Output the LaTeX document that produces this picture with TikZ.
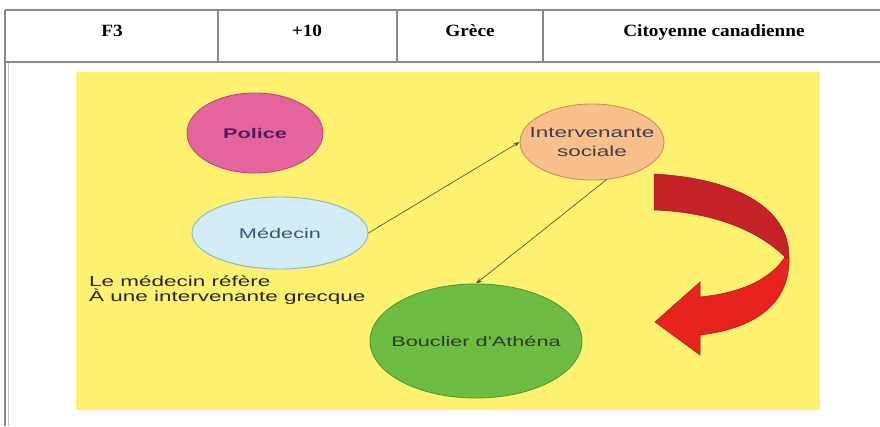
\documentclass[tikz,border=0pt]{standalone}
\usepackage{fontspec}
\setmainfont{Liberation Serif}
\newfontfamily\diagfont[FakeStretch=1.55]{Liberation Sans}
\newfontfamily\cellfont[FakeStretch=1.12]{Liberation Serif}
\usetikzlibrary{shapes.geometric,arrows.meta}

\definecolor{tblline}{HTML}{8A8A8A}
\definecolor{panel}{HTML}{FEF170}
\definecolor{policefill}{HTML}{E5649E}
\definecolor{policeline}{HTML}{B84A7C}
\definecolor{policetext}{HTML}{4E1D5C}
\definecolor{medfill}{HTML}{D2ECF8}
\definecolor{medline}{HTML}{8DB6CC}
\definecolor{medtext}{HTML}{3A5878}
\definecolor{intfill}{HTML}{F9C08B}
\definecolor{intline}{HTML}{C98E5E}
\definecolor{inttext}{HTML}{3E3E50}
\definecolor{boufill}{HTML}{6DBD45}
\definecolor{bouline}{HTML}{4E9A32}
\definecolor{boutext}{HTML}{2F3A2A}
\definecolor{connline}{HTML}{5E5638}
\definecolor{ribbondark}{HTML}{C42129}
\definecolor{ribbonlight}{HTML}{E8231F}
\definecolor{ribbonedge}{HTML}{9E1A1E}

\tikzset{
  cell/.style={anchor=base, inner sep=0pt,
    font=\cellfont\bfseries\fontsize{17.2}{19}\selectfont, text=black},
  % negative inner sep: the ellipse size comes from minimum width/height only
  bubble/.style={ellipse, draw, line width=0.9pt, inner sep=-40pt,
    font=\diagfont\fontsize{14}{19}\selectfont, align=center},
  conn/.style={draw=connline, line width=0.7pt,
    -{Stealth[length=6pt,width=4.5pt]}},
}

\begin{document}
\begin{tikzpicture}[x=1pt,y=-1pt]
  \useasboundingbox (0,0) rectangle (880,426);
  \fill[white] (0,0) rectangle (880,426);

  % table frame and header row
  \draw[tblline, line width=1.3pt] (5,10) -- (880,10);
  \draw[tblline, line width=1.3pt] (5,10) -- (5,426);
  \draw[tblline!50, line width=0.8pt] (8,62) -- (8,426);
  \draw[tblline, line width=1.1pt] (5,62) -- (880,62);
  \draw[tblline, line width=1.1pt] (218,10) -- (218,62);
  \draw[tblline, line width=1.1pt] (397,10) -- (397,62);
  \draw[tblline, line width=1.1pt] (543,10) -- (543,62);

  \node[cell] (c1) at (112,36) {F3};
  \node[cell] (c2) at (307,36) {+10};
  \node[cell] (c3) at (470,36) {Grèce};
  \node[cell] (c4) at (714,36) {Citoyenne canadienne};

  % yellow panel
  \fill[panel] (76,72) rectangle (820,410);

  % actors
  \node[bubble, fill=policefill, draw=policeline, text=policetext,
        minimum width=136pt, minimum height=80pt,
        font=\diagfont\bfseries\fontsize{14}{19}\selectfont]
        (pol) at (255,133) {Police};
  \node[bubble, fill=medfill, draw=medline, text=medtext,
        minimum width=176pt, minimum height=72pt] (med) at (280,233) {Médecin};
  \node[bubble, fill=intfill, draw=intline, text=inttext,
        minimum width=144pt, minimum height=76pt,
        font=\diagfont\fontsize{14.5}{19}\selectfont]
        (int) at (592,142) {Intervenante\\sociale};
  \node[bubble, fill=boufill, draw=bouline, text=boutext,
        minimum width=212pt, minimum height=114pt] (bou) at (476,341) {Bouclier d'Athéna};

  % referrals
  \draw[conn] (med.east) -- (int.west);
  \draw[conn] (int.-69) -- (bou.north);

  \node[anchor=west, align=left, inner sep=0pt, text=black!85,
        font=\diagfont\fontsize{14.5}{15}\selectfont] (note) at (89,290.5)
        {Le médecin réfère\\À une intervenante grecque};

  % twisted ribbon arrow
  \fill[ribbondark, draw=ribbonedge, line width=0.5pt]
    (654,174) .. controls (730,178) and (790,205) .. (789,258)
    -- (785,257) .. controls (760,232) and (715,212) .. (654,210) -- cycle;
  \fill[ribbonlight, draw=ribbonedge, line width=0.5pt]
    (785,257) .. controls (770,280) and (740,293) .. (700,297)
    -- (700,282) -- (655,322) -- (700,355) -- (700,335)
    .. controls (760,328) and (790,300) .. (789,258) -- cycle;
\end{tikzpicture}
\end{document}
